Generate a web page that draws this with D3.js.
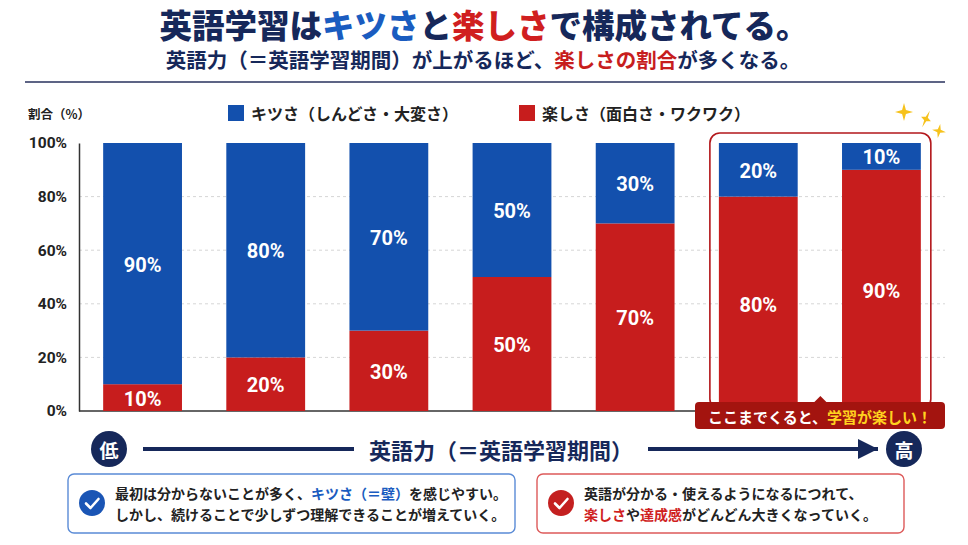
<!DOCTYPE html>
<html>
<head>
<meta charset="utf-8">
<script src="https://cdn.jsdelivr.net/npm/d3@7"></script>
<style>
  body { margin: 0; background: #ffffff; }
  svg { display: block; font-family: "Noto Sans CJK JP", "Noto Sans", sans-serif; }
</style>
</head>
<body>
<svg id="chart" width="968" height="545"></svg>
<script>
// data
const stages = ["1", "2", "3", "4", "5", "6", "7"];
const kitsusa = [90, 80, 70, 50, 30, 20, 10];     // キツさ
const tanoshisa = [10, 20, 30, 50, 70, 80, 90];   // 楽しさ
const yTicks = [0, 20, 40, 60, 80, 100];
const seriesNames = ["キツさ（しんどさ・大変さ）", "楽しさ（面白さ・ワクワク）"];

const navy = "#16285a";
const blue = "#1350ad";
const red = "#c71d1d";

const svg = d3.select("#chart");

// title
const title = svg.append("text")
  .attr("x", 484).attr("y", 23)
  .attr("text-anchor", "middle").attr("dominant-baseline", "central")
  .attr("font-size", 32.5).attr("font-weight", 900).attr("fill", navy);
title.append("tspan").text("英語学習は");
title.append("tspan").attr("fill", "#1a5cc0").text("キツさ");
title.append("tspan").text("と");
title.append("tspan").attr("fill", "#d01f1f").text("楽しさ");
title.append("tspan").text("で構成されてる。");

const sub = svg.append("text")
  .attr("x", 483).attr("y", 59)
  .attr("text-anchor", "middle").attr("dominant-baseline", "central")
  .attr("font-size", 20.5).attr("font-weight", 700).attr("fill", navy);
sub.append("tspan").text("英語力（＝英語学習期間）が上がるほど、");
sub.append("tspan").attr("fill", "#c71d1d").text("楽しさの割合");
sub.append("tspan").text("が多くなる。");

svg.append("line")
  .attr("x1", 25).attr("x2", 945).attr("y1", 82).attr("y2", 82)
  .attr("stroke", "#5d6485").attr("stroke-width", 2);

// legend
svg.append("text")
  .attr("x", 28).attr("y", 113).attr("dominant-baseline", "central")
  .attr("font-size", 12.5).attr("font-weight", 700).attr("fill", "#222")
  .text("割合（%）");

const legend = svg.selectAll(".legend")
  .data(seriesNames)
  .join("g")
  .attr("transform", (d, i) => `translate(${[228, 519][i]},105)`);
legend.append("rect")
  .attr("width", 16).attr("height", 16)
  .attr("fill", (d, i) => i === 0 ? blue : red);
legend.append("text")
  .attr("x", 23).attr("y", 8).attr("dominant-baseline", "central")
  .attr("font-size", 16).attr("font-weight", 700).attr("fill", "#222")
  .text(d => d);

// scales
const x = d3.scaleBand().domain(stages).range([81, 943])
  .paddingInner(0.36).paddingOuter(0.18);
const y = d3.scaleLinear().domain([0, 100]).range([411, 143]);

// gridlines
svg.append("g")
  .selectAll("line")
  .data(yTicks.filter(t => t > 0 && t < 100))
  .join("line")
  .attr("x1", 79).attr("x2", 945)
  .attr("y1", d => y(d)).attr("y2", d => y(d))
  .attr("stroke", "#d6d6d6").attr("stroke-dasharray", "3,3");

// y axis
const yAxis = svg.append("g")
  .attr("transform", "translate(79,0)")
  .call(d3.axisLeft(y).tickValues(yTicks).tickSize(0).tickPadding(12).tickFormat(d => d + "%"));
yAxis.select(".domain").attr("stroke", "#333").attr("stroke-width", 1.5);
yAxis.selectAll("text")
  .attr("font-size", 15.5).attr("font-weight", 700).attr("fill", "#222")
  .attr("font-family", "Roboto, 'Noto Sans', sans-serif");

// baseline
svg.append("line")
  .attr("x1", 79).attr("x2", 945).attr("y1", y(0)).attr("y2", y(0))
  .attr("stroke", "#333").attr("stroke-width", 1.5);

// stacked bars
const rows = stages.map((s, i) => ({ stage: s, tanoshisa: tanoshisa[i], kitsusa: kitsusa[i] }));
const stacked = d3.stack().keys(["tanoshisa", "kitsusa"])(rows);
const colors = { tanoshisa: red, kitsusa: blue };

const layer = svg.append("g").selectAll("g")
  .data(stacked)
  .join("g")
  .attr("fill", d => colors[d.key]);

layer.selectAll("rect")
  .data(d => d)
  .join("rect")
  .attr("x", d => x(d.data.stage))
  .attr("width", x.bandwidth())
  .attr("y", d => y(d[1]))
  .attr("height", d => y(d[0]) - y(d[1]));

layer.selectAll("text")
  .data(d => d)
  .join("text")
  .attr("x", d => x(d.data.stage) + x.bandwidth() / 2)
  .attr("y", d => (y(d[0]) + y(d[1])) / 2 + 1)
  .attr("text-anchor", "middle").attr("dominant-baseline", "central")
  .attr("font-family", "Roboto, 'Noto Sans', sans-serif")
  .attr("font-size", 20).attr("font-weight", 700).attr("fill", "#fff")
  .text(d => (d[1] - d[0]) + "%");

// highlight around the last two stages
const hx0 = x("6") - 9, hx1 = x("7") + x.bandwidth() + 10;
svg.append("rect")
  .attr("x", hx0).attr("y", y(100) - 10)
  .attr("width", hx1 - hx0).attr("height", y(0) - y(100) + 8)
  .attr("rx", 10)
  .attr("fill", "none").attr("stroke", "#b3171b").attr("stroke-width", 1.6);

const cx = (hx0 + hx1) / 2;
svg.append("path")
  .attr("d", `M${cx - 7},403 L${cx},396 L${cx + 7},403 Z`)
  .attr("fill", "#a3140f");
svg.append("rect")
  .attr("x", 695).attr("y", 402).attr("width", 250).attr("height", 27)
  .attr("rx", 4).attr("fill", "#a3140f");
const call = svg.append("text")
  .attr("x", 820).attr("y", 416)
  .attr("text-anchor", "middle").attr("dominant-baseline", "central")
  .attr("font-size", 15).attr("font-weight", 700).attr("fill", "#fff");
call.append("tspan").text("ここまでくると、");
call.append("tspan").attr("fill", "#ffd21f").text("学習が楽しい！");

// sparkles
function star(r, k) {
  const pts = [];
  for (let i = 0; i < 8; i++) {
    const a = i * Math.PI / 4 - Math.PI / 2;
    const rr = i % 2 === 0 ? r : r * k;
    pts.push([Math.cos(a) * rr, Math.sin(a) * rr]);
  }
  return "M" + pts.map(p => p.join(",")).join("L") + "Z";
}
const sparkles = [
  { x: 904, y: 112, r: 9, rot: 0, sx: 1 },
  { x: 926, y: 119, r: 9, rot: 25, sx: 0.6 },
  { x: 939, y: 131, r: 7, rot: 10, sx: 1 }
];
svg.append("g").selectAll("path")
  .data(sparkles)
  .join("path")
  .attr("transform", d => `translate(${d.x},${d.y}) rotate(${d.rot}) scale(${d.sx},1)`)
  .attr("d", d => star(d.r, 0.3))
  .attr("fill", "#f6c21c");

// bottom arrow: 低 -> 高
const ay = 449;
svg.append("defs").append("marker")
  .attr("id", "head").attr("viewBox", "0 0 10 10")
  .attr("refX", 10).attr("refY", 5)
  .attr("markerWidth", 5).attr("markerHeight", 5)
  .attr("markerUnits", "strokeWidth").attr("orient", "auto")
  .append("path").attr("d", "M0,0 L10,5 L0,10 Z").attr("fill", navy);

svg.append("line")
  .attr("x1", 143).attr("x2", 354).attr("y1", ay).attr("y2", ay)
  .attr("stroke", navy).attr("stroke-width", 4);
svg.append("line")
  .attr("x1", 648).attr("x2", 878).attr("y1", ay).attr("y2", ay)
  .attr("stroke", navy).attr("stroke-width", 4)
  .attr("marker-end", "url(#head)");
svg.append("text")
  .attr("x", 501).attr("y", ay)
  .attr("text-anchor", "middle").attr("dominant-baseline", "central")
  .attr("font-size", 22).attr("font-weight", 700).attr("fill", navy)
  .text("英語力（＝英語学習期間）");

const ends = svg.selectAll(".end")
  .data([{ x: 109, t: "低" }, { x: 904, t: "高" }])
  .join("g")
  .attr("transform", d => `translate(${d.x},${ay})`);
ends.append("circle").attr("r", 18).attr("fill", navy);
ends.append("text")
  .attr("text-anchor", "middle").attr("dominant-baseline", "central")
  .attr("font-size", 19).attr("font-weight", 700).attr("fill", "#fff")
  .text(d => d.t);

// note boxes
const notes = [
  {
    x: 68, w: 447, stroke: "#5a8bd6", fill: "#1a55b5",
    lines: [
      [["最初は分からないことが多く、", "#222"], ["キツさ（＝壁）", "#1a5cc0"], ["を感じやすい。", "#222"]],
      [["しかし、続けることで少しずつ理解できることが増えていく。", "#222"]]
    ]
  },
  {
    x: 537, w: 367, stroke: "#dd5a5a", fill: "#c42020",
    lines: [
      [["英語が分かる・使えるようになるにつれて、", "#222"]],
      [["楽しさ", "#d01f1f"], ["や", "#222"], ["達成感", "#d01f1f"], ["がどんどん大きくなっていく。", "#222"]]
    ]
  }
];

const note = svg.selectAll(".note")
  .data(notes)
  .join("g")
  .attr("transform", d => `translate(${d.x},474)`);
note.append("rect")
  .attr("width", d => d.w).attr("height", 59).attr("rx", 6)
  .attr("fill", "#fff").attr("stroke", d => d.stroke).attr("stroke-width", 1.4);
note.append("circle")
  .attr("cx", 24).attr("cy", 29).attr("r", 13)
  .attr("fill", d => d.fill);
note.append("path")
  .attr("d", "M18,29.5 L22.5,34 L30.5,25")
  .attr("fill", "none").attr("stroke", "#fff").attr("stroke-width", 2.6)
  .attr("stroke-linecap", "round").attr("stroke-linejoin", "round");
note.each(function(d) {
  const g = d3.select(this);
  d.lines.forEach((line, i) => {
    const t = g.append("text")
      .attr("x", 47).attr("y", 19 + i * 21)
      .attr("dominant-baseline", "central")
      .attr("font-size", 14).attr("font-weight", 700);
    line.forEach(part => t.append("tspan").attr("fill", part[1]).text(part[0]));
  });
});
</script>
</body>
</html>
